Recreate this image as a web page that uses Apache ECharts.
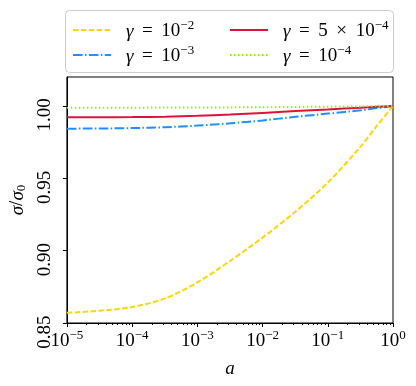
<html lang="en">
<head>
    <meta charset="UTF-8">
    <title>sigma / sigma0</title>
    <script src="https://cdn.jsdelivr.net/npm/echarts@6/dist/echarts.min.js"></script>
</head>
<body style="margin:0;background:#fff;">
    <div id="container" style="width: 416px;height: 386px;"></div>
<script>
    // sample points along a (log axis)
    var aVals = [1e-5, 3.2e-5, 1e-4, 3.2e-4, 1e-3, 3.2e-3, 1e-2, 3.2e-2, 1e-1, 3.2e-1, 5.6e-1, 1];
    var gamma1e2 = [0.857, 0.8585, 0.861, 0.867, 0.878, 0.893, 0.909, 0.927, 0.947, 0.972, 0.986, 1.0];
    var gamma1e3 = [0.9843, 0.9844, 0.9847, 0.9853, 0.9864, 0.988, 0.990, 0.9925, 0.9947, 0.997, 0.9985, 1.0];
    var gamma5e4 = [0.9922, 0.9922, 0.9923, 0.9926, 0.9932, 0.994, 0.9952, 0.9965, 0.9976, 0.9988, 0.9994, 1.0];
    var gamma1e4 = [0.9988, 0.9988, 0.9988, 0.9989, 0.9989, 0.999, 0.9991, 0.9993, 0.9995, 0.9997, 0.9999, 1.0];

    var xTicks = [1e-5, 1e-4, 1e-3, 1e-2, 1e-1, 1];
    var yTicks = [0.85, 0.90, 0.95, 1.00];
    var leftColumn = ['g2', 'g3'];
    var rightColumn = ['g54', 'g4'];
    var legendLabels = {
        g2: '{g|γ}{n|\u2009 = \u200910}{s|−2}',
        g54: '{g|γ}{n|\u2009 = \u20095\u2009 × \u200910}{s|−4}',
        g3: '{g|γ}{n|\u2009 = \u200910}{s|−3}',
        g4: '{g|γ}{n|\u2009 = \u200910}{s|−4}'
    };

    // minor ticks 2..9 per decade
    var minorTicks = [];
    for (var k = 0; k < xTicks.length - 1; k++) {
        for (var m = 2; m <= 9; m++) {
            minorTicks.push(m * xTicks[k]);
        }
    }

    var FONT = 'Liberation Serif';
    var rich = {
        n: { fontFamily: FONT, fontSize: 19, color: '#000', lineHeight: 22, verticalAlign: 'bottom' },
        g: { fontFamily: FONT, fontSize: 19, fontStyle: 'italic', color: '#000', lineHeight: 22, verticalAlign: 'bottom' },
        s: { fontFamily: FONT, fontSize: 13, color: '#000', lineHeight: 12, verticalAlign: 'top' }
    };

    function pairs(ys) {
        var out = [];
        for (var i = 0; i < aVals.length; i++) {
            out.push([aVals[i], ys[i]]);
        }
        return out;
    }

    function lineSeries(name, ys, color, dash) {
        return {
            name: name,
            type: 'line',
            data: pairs(ys),
            smooth: 0.3,
            symbol: 'none',
            lineStyle: { color: color, width: 2, type: dash },
            itemStyle: { color: color }
        };
    }

    function legendColumn(left, names) {
        return {
            orient: 'vertical',
            left: left, top: 19,
            padding: 0,
            itemWidth: 38, itemHeight: 14, itemGap: 3,
            // hide the marker, keep the line sample
            itemStyle: { opacity: 0 },
            data: names,
            formatter: function (name) { return legendLabels[name]; },
            textStyle: { padding: [0, 0, 0, 10], rich: rich }
        };
    }

    var chart = echarts.init(document.getElementById('container'));
    var option = {
        backgroundColor: '#ffffff',
        animation: false,
        graphic: [{
            type: 'rect', left: 65, top: 10,
            shape: { width: 328, height: 62, r: 4 },
            style: { fill: '#fff', stroke: '#cccccc', lineWidth: 1 },
            z: -1
        }],
        grid: {
            left: 65, right: 23, top: 77, bottom: 63,
            show: true, borderColor: '#000', borderWidth: 1
        },
        legend: [legendColumn(72, leftColumn), legendColumn(229, rightColumn)],
        xAxis: [{
            type: 'log', logBase: 10, min: 1e-5, max: 1,
            position: 'bottom',
            name: 'a', nameLocation: 'middle', nameGap: 36,
            nameTextStyle: { fontFamily: FONT, fontSize: 19, fontStyle: 'italic', color: '#000' },
            axisLine: { lineStyle: { color: '#000', width: 1 } },
            axisTick: { customValues: xTicks, length: 4, lineStyle: { color: '#000' } },
            axisLabel: {
                customValues: xTicks, margin: 6,
                formatter: function (v) {
                    var e = Math.round(Math.log10(v));
                    return '{n|10}{s|' + (e < 0 ? '−' + (-e) : e) + '}';
                },
                rich: rich
            },
            splitLine: { show: false }
        }, {
            type: 'log', logBase: 10, min: 1e-5, max: 1,
            position: 'bottom',
            axisLine: { show: false },
            axisTick: { customValues: minorTicks, length: 2, lineStyle: { color: '#000' } },
            axisLabel: { show: false },
            splitLine: { show: false }
        }],
        yAxis: {
            type: 'value', min: 0.85, max: 1.02,
            name: '{g|σ}{n|/}{g|σ}{b|0}', nameLocation: 'middle', nameGap: 35, nameRotate: 90,
            nameTextStyle: {
                rich: {
                    n: { fontFamily: FONT, fontSize: 19, color: '#000', lineHeight: 20, verticalAlign: 'top' },
                    g: { fontFamily: FONT, fontSize: 19, fontStyle: 'italic', color: '#000', lineHeight: 20, verticalAlign: 'top' },
                    b: { fontFamily: FONT, fontSize: 13, color: '#000', lineHeight: 12, verticalAlign: 'bottom' }
                }
            },
            axisLine: { show: true, lineStyle: { color: '#000', width: 1 } },
            axisTick: { show: true, customValues: yTicks, length: 4, lineStyle: { color: '#000' } },
            axisLabel: {
                customValues: yTicks, rotate: 90, margin: 12,
                // labels sit a little below their ticks in the original
                padding: [0, 18, 0, 0],
                fontFamily: FONT, fontSize: 19, color: '#000',
                formatter: function (v) { return v.toFixed(2); }
            },
            splitLine: { show: false }
        },
        series: [
            lineSeries('g2', gamma1e2, '#FFD700', [5.5, 2.4]),
            lineSeries('g3', gamma1e3, '#1E90FF', [9.6, 2.4, 1.5, 2.4]),
            lineSeries('g54', gamma5e4, '#DC143C', 'solid'),
            lineSeries('g4', gamma1e4, '#7CFC00', [1.5, 2.5])
        ]
    };
    chart.setOption(option);
</script>
</body>
</html>
